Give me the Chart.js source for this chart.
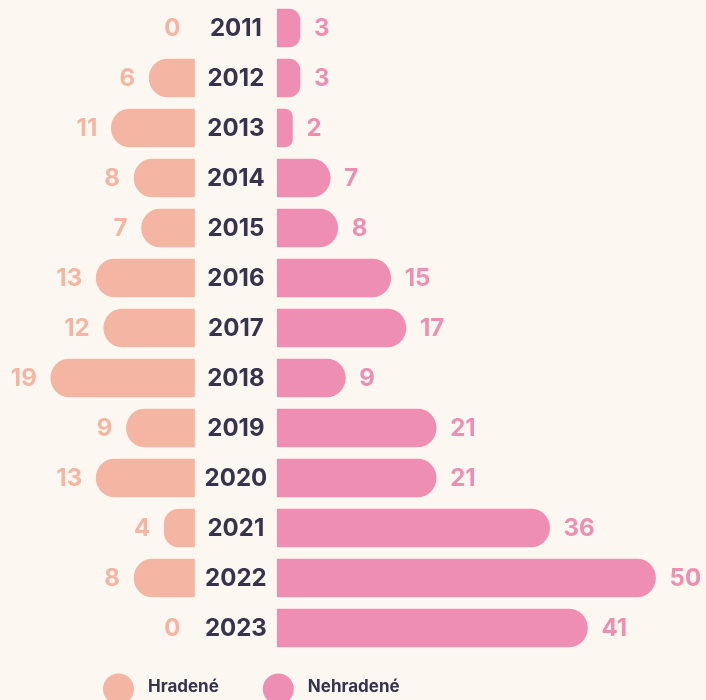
<!DOCTYPE html>
<html>
<head>
<meta charset="utf-8">
<script src="https://cdn.jsdelivr.net/npm/chart.js@4"></script>
<style>
  html, body { margin: 0; padding: 0; background: #fcf8f1; }
  #wrap { width: 706px; height: 700px; }
</style>
</head>
<body>
<div id="wrap"><canvas id="butterfly-chart"></canvas></div>
<script>
var years = ['2011', '2012', '2013', '2014', '2015', '2016', '2017', '2018', '2019', '2020', '2021', '2022', '2023'];
var hradene = [0, 6, 11, 8, 7, 13, 12, 19, 9, 13, 4, 8, 0];
var nehradene = [3, 3, 2, 7, 8, 15, 17, 9, 21, 21, 36, 50, 41];
var seriesNames = ['Hradené', 'Nehradené'];

var seriesColors = ['#f4b5a2', '#ef8eb3'];
var ink = '#36334c';
var gap = 5.47; // half of the space kept for the year labels, in value units

var leftData = hradene.map(function (v) { return [-gap - v, -gap]; });
var rightData = nehradene.map(function (v) { return [gap, gap + v]; });

// zero values get no bar at all (otherwise a hairline shows)
function barColor(values, color) {
	return function (ctx) {
		return values[ctx.dataIndex] === 0 ? 'rgba(0,0,0,0)' : color;
	};
}

var labelsPlugin = {
	id: 'butterflyLabels',
	afterDatasetsDraw: function (chart) {
		var ctx = chart.ctx;
		var xs = chart.scales.x, ys = chart.scales.y;
		var mid = xs.getPixelForValue(0);
		ctx.save();
		ctx.textBaseline = 'middle';

		// year labels in the middle
		ctx.font = '700 24px Inter';
		ctx.fillStyle = ink;
		ctx.textAlign = 'center';
		years.forEach(function (yr, i) {
			ctx.fillText(yr, mid, ys.getPixelForValue(i) + 1);
		});

		// values at bar ends
		ctx.font = '700 24px Inter';
		hradene.forEach(function (v, i) {
			ctx.fillStyle = seriesColors[0];
			ctx.textAlign = 'right';
			ctx.fillText(v, xs.getPixelForValue(-gap - v) - 14, ys.getPixelForValue(i) + 1);
		});
		nehradene.forEach(function (v, i) {
			ctx.fillStyle = seriesColors[1];
			ctx.textAlign = 'left';
			ctx.fillText(v, xs.getPixelForValue(gap + v) + 14, ys.getPixelForValue(i) + 1);
		});

		// legend
		var r = 15.5, cx = 103, cy = 689;
		ctx.font = '700 17px Inter';
		ctx.textAlign = 'left';
		seriesNames.forEach(function (name, di) {
			ctx.fillStyle = seriesColors[di];
			ctx.beginPath();
			ctx.arc(cx + r, cy, r, 0, Math.PI * 2);
			ctx.fill();
			ctx.fillStyle = ink;
			var tx = cx + 2 * r + 14;
			ctx.fillText(name, tx, cy - 2);
			cx = tx + ctx.measureText(name).width + 44;
		});
		ctx.restore();
	}
};

new Chart('butterfly-chart', {
	type: 'bar',
	data: {
		labels: years,
		datasets: [
			{
				label: seriesNames[0],
				data: leftData,
				backgroundColor: barColor(hradene, seriesColors[0]),
				borderWidth: 0,
				borderSkipped: false,
				borderRadius: { topLeft: 19, bottomLeft: 19, topRight: 0, bottomRight: 0 }
			},
			{
				label: seriesNames[1],
				data: rightData,
				backgroundColor: barColor(nehradene, seriesColors[1]),
				borderWidth: 0,
				borderSkipped: false,
				borderRadius: { topLeft: 0, bottomLeft: 0, topRight: 19, bottomRight: 19 }
			}
		]
	},
	options: {
		indexAxis: 'y',
		responsive: true,
		maintainAspectRatio: false,
		animation: false,
		grouped: false,
		barThickness: 38,
		layout: { padding: { top: 3, bottom: 47, left: 0, right: 0 } },
		scales: {
			x: { display: false, min: -31.18, max: 62.14 },
			y: { display: false }
		},
		plugins: {
			legend: { display: false },
			tooltip: { enabled: false }
		}
	},
	plugins: [labelsPlugin]
});
</script>
</body>
</html>
